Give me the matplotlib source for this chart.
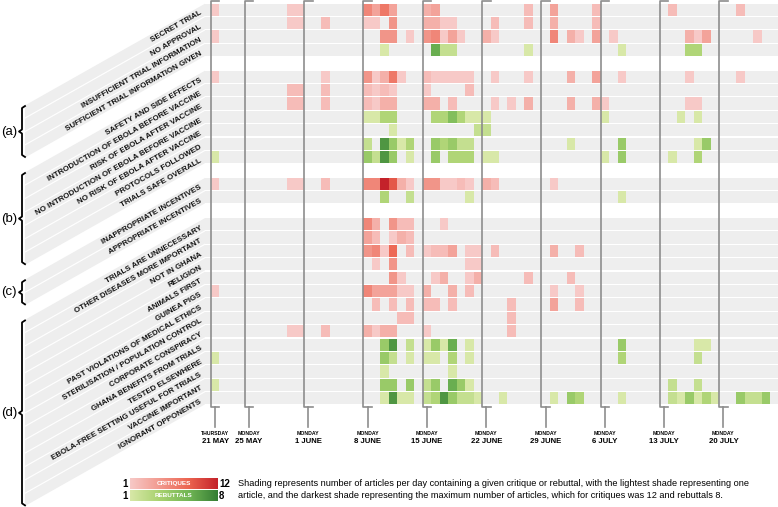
import matplotlib.pyplot as plt
from matplotlib.colors import LinearSegmentedColormap, Normalize
import numpy as np

plt.rcParams['font.family'] = ['Liberation Sans', 'DejaVu Sans']

# Rows (critique = 'c', rebuttal = 'r'), grouped (a)-(d)
group_names = ['(a)', '(b)', '(c)', '(d)']

labels_a = ['SECRET TRIAL', 'NO APPROVAL', 'INSUFFICIENT TRIAL INFORMATION',
            'SUFFICIENT TRIAL INFORMATION GIVEN']
labels_b = ['SAFETY AND SIDE EFFECTS', 'INTRODUCTION OF EBOLA BEFORE VACCINE',
            'RISK OF EBOLA AFTER VACCINE', 'NO INTRODUCTION OF EBOLA BEFORE VACCINE',
            'NO RISK OF EBOLA AFTER VACCINE', 'PROTOCOLS FOLLOWED', 'TRIALS SAFE OVERALL']
labels_c = ['INAPPROPRIATE INCENTIVES', 'APPROPRIATE INCENTIVES']
labels_d = ['TRIALS ARE UNNECESSARY', 'OTHER DISEASES MORE IMPORTANT', 'NOT IN GHANA',
            'RELIGION', 'ANIMALS FIRST', 'GUINEA PIGS', 'PAST VIOLATIONS OF MEDICAL ETHICS',
            'STERILISATION / POPULATION CONTROL', 'CORPORATE CONSPIRACY',
            'GHANA BENEFITS FROM TRIALS', 'TESTED ELSEWHERE',
            'EBOLA-FREE SETTING USEFUL FOR TRIALS', 'VACCINE IMPORTANT', 'IGNORANT OPPONENTS']

kinds_a = ['c', 'c', 'c', 'r']
kinds_b = ['c', 'c', 'c', 'r', 'r', 'r', 'r']
kinds_c = ['c', 'r']
kinds_d = ['c'] * 9 + ['r'] * 5

# articles per day, {days after 21 May: count}
counts_a = [
    {0: 1, 9: 1, 10: 1, 18: 6, 19: 4, 20: 7, 21: 4, 25: 3, 26: 4, 37: 2, 40: 4, 45: 2, 54: 2, 62: 2},
    {9: 1, 10: 1, 13: 2, 18: 1, 19: 1, 21: 5, 25: 3, 26: 3, 27: 1, 28: 1, 33: 2, 37: 2, 40: 3, 45: 2},
    {0: 1, 20: 5, 21: 5, 23: 1, 25: 5, 26: 6, 27: 1, 28: 4, 29: 1, 32: 3, 33: 1, 40: 6, 42: 3,
     43: 1, 45: 4, 47: 1, 56: 3, 57: 1, 58: 4, 64: 1},
    {20: 1, 26: 6, 27: 2, 28: 2, 37: 1, 48: 1, 56: 3, 57: 3},
]
counts_b = [
    {0: 1, 13: 1, 18: 5, 19: 1, 20: 3, 21: 7, 22: 1, 25: 2, 26: 1, 27: 1, 28: 1, 29: 1, 30: 1,
     33: 1, 37: 1, 42: 3, 45: 4, 48: 1, 56: 1, 62: 1},
    {9: 2, 10: 2, 13: 2, 18: 2, 19: 1, 20: 2, 21: 1, 25: 1, 30: 2},
    {9: 2, 10: 2, 13: 2, 18: 2, 19: 1, 20: 3, 21: 3, 25: 3, 26: 3, 28: 2, 33: 1, 35: 1, 37: 3,
     42: 3, 45: 3, 46: 1, 56: 1, 57: 1},
    {18: 1, 19: 1, 20: 3, 21: 3, 26: 3, 27: 3, 28: 5, 29: 3, 30: 1, 31: 1, 32: 1, 46: 1, 55: 1, 57: 1},
    {21: 1, 31: 2, 32: 2},
    {18: 2, 20: 7, 21: 4, 22: 1, 23: 3, 26: 4, 27: 3, 28: 4, 29: 2, 30: 2, 42: 1, 48: 4, 57: 1, 58: 4},
    {0: 1, 18: 4, 19: 2, 20: 7, 21: 4, 23: 1, 26: 4, 28: 3, 29: 3, 30: 3, 32: 1, 33: 1, 46: 1,
     48: 4, 54: 1, 57: 3},
]
counts_c = [
    {0: 1, 9: 1, 10: 1, 13: 2, 18: 6, 19: 6, 20: 12, 21: 9, 22: 3, 23: 1, 25: 5, 26: 5, 27: 1,
     28: 1, 29: 2, 30: 1, 32: 3, 33: 2, 40: 1},
    {20: 3, 23: 2, 30: 1, 48: 1},
]
counts_d = [
    {18: 6, 19: 3, 21: 5, 22: 2, 23: 2, 27: 1},
    {18: 4, 19: 2, 21: 1, 22: 3, 23: 2},
    {18: 5, 19: 6, 20: 1, 21: 8, 23: 2, 25: 1, 26: 2, 27: 2, 28: 4, 30: 1, 31: 1, 33: 2, 40: 3, 43: 2},
    {19: 1, 21: 5, 30: 1, 31: 1},
    {21: 5, 22: 1, 26: 1, 27: 3, 30: 1, 31: 3, 37: 2, 42: 2},
    {0: 1, 18: 6, 19: 4, 20: 4, 21: 4, 22: 1, 23: 1, 25: 3, 28: 3, 30: 2, 40: 1, 43: 1},
    {19: 2, 21: 2, 23: 2, 25: 2, 26: 2, 28: 2, 35: 2, 40: 4, 43: 2},
    {22: 2, 23: 2, 35: 2},
    {9: 1, 10: 1, 13: 2, 18: 3, 19: 1, 20: 3, 21: 3, 25: 1, 35: 2},
    {20: 4, 21: 7, 23: 2, 25: 1, 26: 4, 27: 1, 28: 6, 30: 1, 48: 4, 57: 1, 58: 1},
    {0: 1, 20: 4, 21: 2, 23: 1, 25: 1, 26: 1, 28: 3, 30: 1, 48: 3, 57: 2},
    {20: 1, 28: 1},
    {0: 1, 20: 4, 21: 4, 23: 4, 25: 2, 26: 4, 28: 6, 29: 4, 30: 1, 54: 2, 57: 2},
    {20: 1, 21: 7, 22: 1, 23: 1, 25: 2, 26: 3, 27: 7, 28: 4, 29: 2, 30: 2, 31: 1, 34: 1, 40: 1,
     42: 4, 43: 3, 48: 1, 54: 2, 55: 1, 56: 4, 57: 1, 58: 3, 59: 1, 62: 4, 63: 2, 64: 2, 65: 4},
]

n_days = 67
week_days = [0, 4, 11, 18, 25, 32, 39, 46, 53, 60]
week_names = ['THURSDAY'] + ['MONDAY'] * 9
week_dates = ['21 MAY', '25 MAY', '1 JUNE', '8 JUNE', '15 JUNE', '22 JUNE',
              '29 JUNE', '6 JULY', '13 JULY', '20 JULY']

crit_max, reb_max = 12, 8

# layout (pixels of the 778x507 canvas)
W, H = 778, 507
DAY_PX, ROW_PX = 8.47, 13.4
X0_PX, Y0_PX = 211, 3
SLOPE = 0.565
JOIN_PX, LEFT_PX = 205, 25
ANGLE = np.degrees(np.arctan(SLOPE))

crit_cmap = LinearSegmentedColormap.from_list('crit', ['#f7c9c7', '#f29a8f', '#ec6450', '#c4222a'])
reb_cmap = LinearSegmentedColormap.from_list('reb', ['#d8e8a8', '#a9d26f', '#72b655', '#357e34'])
crit_norm = Normalize(1, crit_max)
reb_norm = Normalize(1, reb_max)
bg = '#eeeeee'
line_col = '#8d8d8d'


def px_x(p):
    return (p - X0_PX) / DAY_PX


fig = plt.figure(figsize=(W / 100, H / 100), dpi=100)
ax = fig.add_axes([0, 0, 1, 1])
ax.set_xlim(px_x(0), px_x(W))
ax.set_ylim((H - Y0_PX) / ROW_PX, -Y0_PX / ROW_PX)
ax.axis('off')

xj, xl, xr = px_x(JOIN_PX), px_x(LEFT_PX), px_x(W) + 1
slant = (JOIN_PX - LEFT_PX) * SLOPE / ROW_PX
pad = 0.05

groups = [(labels_a, kinds_a, counts_a), (labels_b, kinds_b, counts_b),
          (labels_c, kinds_c, counts_c), (labels_d, kinds_d, counts_d)]

slot = 0
for gi, (labels, kinds, counts) in enumerate(groups):
    g_top = slot
    for label, kind, row in zip(labels, kinds, counts):
        y0, y1 = slot + pad, slot + 1 - pad
        ax.fill([xl, xj, xj, xl], [y0 + slant, y0, y1, y1 + slant], color=bg, lw=0)
        ax.barh(slot + 0.5, xr - xj, left=xj, height=1 - 2 * pad, color=bg, lw=0)
        cmap, norm = (crit_cmap, crit_norm) if kind == 'c' else (reb_cmap, reb_norm)
        days = list(row.keys())
        vals = list(row.values())
        ax.barh([slot + 0.5] * len(days), 1, left=days, height=1 - 2 * pad,
                color=[cmap(norm(v)) for v in vals], lw=0)
        lx = px_x(201)
        ax.text(lx, slot + 0.5 + (JOIN_PX - 201) * SLOPE / ROW_PX, label,
                ha='right', va='center_baseline', rotation=ANGLE, rotation_mode='anchor',
                fontsize=5.7, fontweight='bold', color='#111111')
        slot += 1
    g_bot = slot
    # curly brace at left end of slanted band
    bx = px_x(22)
    hk = 3 / DAY_PX
    t, b = g_top + slant + 0.1, g_bot + slant - 0.1
    m = (t + b) / 2
    e = 2 / ROW_PX
    ax.plot([bx + hk, bx, bx, bx - hk, bx, bx, bx + hk],
            [t, t + e, m - e, m, m + e, b - e, b], color='black', lw=1.3,
            solid_joinstyle='round')
    ax.text(px_x(9), m, group_names[gi], ha='center', va='center', fontsize=9.5)
    slot += 1

n_slots = slot - 1
top_y = -2 / ROW_PX
bot_y = n_slots + 2 / ROW_PX
stem_y = (427 - Y0_PX) / ROW_PX
for d, name, date in zip(week_days, week_names, week_dates):
    ax.plot([d + 1, d, d, d + 1], [top_y, top_y, bot_y, bot_y], color=line_col, lw=1.2)
    ax.plot([d + 0.5, d + 0.5], [bot_y, stem_y], color=line_col, lw=1.2)
    ax.text(d + 0.5, (433 - Y0_PX) / ROW_PX, name, ha='center', va='center',
            fontsize=3.7, fontweight='bold')
    ax.text(d + 0.5, (442 - Y0_PX) / ROW_PX, date, ha='center', va='center',
            fontsize=5.6, fontweight='bold')

# legend gradients
grad = np.linspace(0, 1, 256).reshape(1, -1)
for (cm, word, lo, hi, ytop) in [(crit_cmap, 'CRITIQUES', 1, crit_max, 478),
                                 (reb_cmap, 'REBUTTALS', 1, reb_max, 490)]:
    lax = fig.add_axes([130 / W, 1 - (ytop + 11) / H, 87 / W, 11 / H])
    lax.imshow(grad, aspect='auto', cmap=cm)
    lax.axis('off')
    lax.text(0.5, 0.5, word, transform=lax.transAxes, ha='center', va='center',
             color='white', fontsize=4.6, fontweight='bold')
    fig.text(125 / W, 1 - (ytop + 6) / H, str(lo), ha='center', va='center',
             fontsize=7, fontweight='bold')
    fig.text(219 / W, 1 - (ytop + 6) / H, str(hi), ha='left', va='center',
             fontsize=7, fontweight='bold')

fig.text(238 / W, 1 - 484 / H,
         'Shading represents number of articles per day containing a given critique or rebuttal, '
         'with the lightest shade representing one', ha='left', va='center', fontsize=6.6)
fig.text(238 / W, 1 - 496 / H,
         'article, and the darkest shade representing the maximum number of articles, '
         'which for critiques was 12 and rebuttals 8.', ha='left', va='center', fontsize=6.6)

fig.savefig('out.png', dpi=100)
